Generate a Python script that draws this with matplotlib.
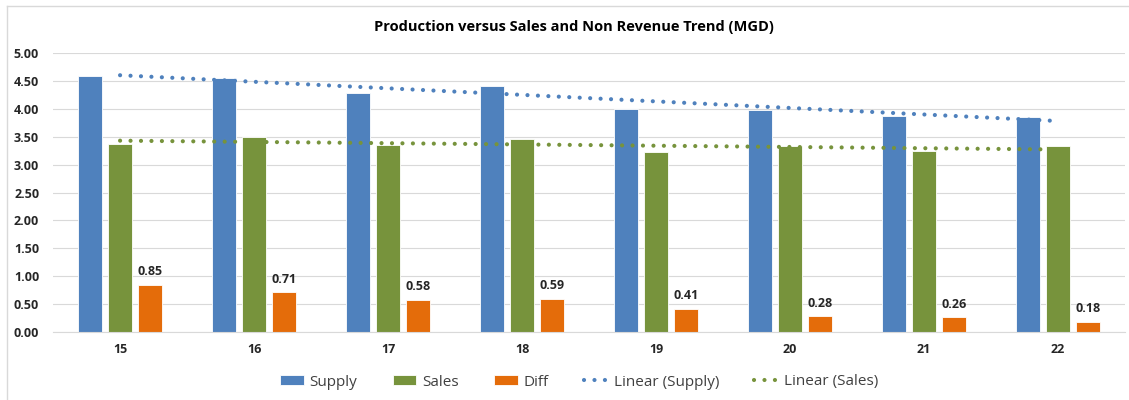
import numpy as np
import matplotlib.pyplot as plt

categories = ["15", "16", "17", "18", "19", "20", "21", "22"]
supply = [4.58, 4.56, 4.29, 4.40, 4.00, 3.97, 3.87, 3.86]
sales = [3.37, 3.50, 3.36, 3.45, 3.22, 3.33, 3.24, 3.33]
diff = [0.85, 0.71, 0.58, 0.59, 0.41, 0.28, 0.26, 0.18]

C_SUPPLY = "#4F81BD"
C_SALES = "#77933C"
C_DIFF = "#E46C0A"

plt.rcParams["font.family"] = ["Open Sans", "DejaVu Sans"]

fig = plt.figure(figsize=(11.29, 4.0), dpi=100)
ax = fig.add_axes([0.047, 0.17, 0.9495, 0.6975])

x = np.arange(len(categories))
w = 0.18
off = 0.224
h1 = ax.bar(x - off, supply, w, color=C_SUPPLY, edgecolor="white", linewidth=0.6, label="Supply", zorder=2)
h2 = ax.bar(x, sales, w, color=C_SALES, edgecolor="white", linewidth=0.6, label="Sales", zorder=2)
h3 = ax.bar(x + off, diff, w, color=C_DIFF, edgecolor="white", linewidth=0.6, label="Diff", zorder=2)

for b, v in zip(h3, diff):
    ax.text(b.get_x() + b.get_width() / 2, v + 0.12, f"{v:.2f}", ha="center", va="bottom",
            fontsize=9, fontweight="bold", color="#262626")

# linear trendlines
dot = dict(linestyle=(0, (0.01, 2.5)), dash_capstyle="round", linewidth=3.0, zorder=3)
trend = []
for vals, col, lab in [(supply, C_SUPPLY, "Linear (Supply)"), (sales, C_SALES, "Linear (Sales)")]:
    k, b0 = np.polyfit(x, vals, 1)
    ln, = ax.plot(x, k * x + b0, color=col, label=lab, **dot)
    trend.append(ln)

ax.set_xlim(-0.5, len(categories) - 0.5)
ax.set_ylim(0, 5)
ax.set_yticks(np.arange(0, 5.01, 0.5))
ax.yaxis.set_major_formatter(plt.FuncFormatter(lambda v, p: f"{v:.2f}"))
ax.set_xticks(x)
ax.set_xticklabels(categories)
ax.tick_params(length=0, labelsize=9, labelcolor="#262626", pad=8)
ax.tick_params(axis="y", pad=10)
for t in ax.get_xticklabels() + ax.get_yticklabels():
    t.set_fontweight("bold")
ax.grid(axis="y", color="#D9D9D9", linewidth=0.8, zorder=0)
for s in ["left", "right", "top"]:
    ax.spines[s].set_visible(False)
ax.spines["bottom"].set_color("#D9D9D9")

fig.text(0.508, 0.932, "Production versus Sales and Non Revenue Trend (MGD)", ha="center", va="center",
         fontsize=10.5, fontweight="bold", color="#000000")

leg = fig.legend([h1, h2, h3] + trend, ["Supply", "Sales", "Diff", "Linear (Supply)", "Linear (Sales)"],
                 loc="center", bbox_to_anchor=(0.513, 0.045), ncol=5, frameon=False,
                 fontsize=11, handlelength=1.55, handleheight=0.6, columnspacing=2.3, handletextpad=0.4)
for t in leg.get_texts():
    t.set_color("#404040")

# chart border (cropped on right and bottom in the original)
fig.add_artist(plt.Line2D([0.0062, 0.0062], [0.0, 0.985], transform=fig.transFigure, color="#D9D9D9", lw=1))
fig.add_artist(plt.Line2D([0.0062, 1.0], [0.985, 0.985], transform=fig.transFigure, color="#D9D9D9", lw=1))

fig.savefig("out.png", dpi=100)
